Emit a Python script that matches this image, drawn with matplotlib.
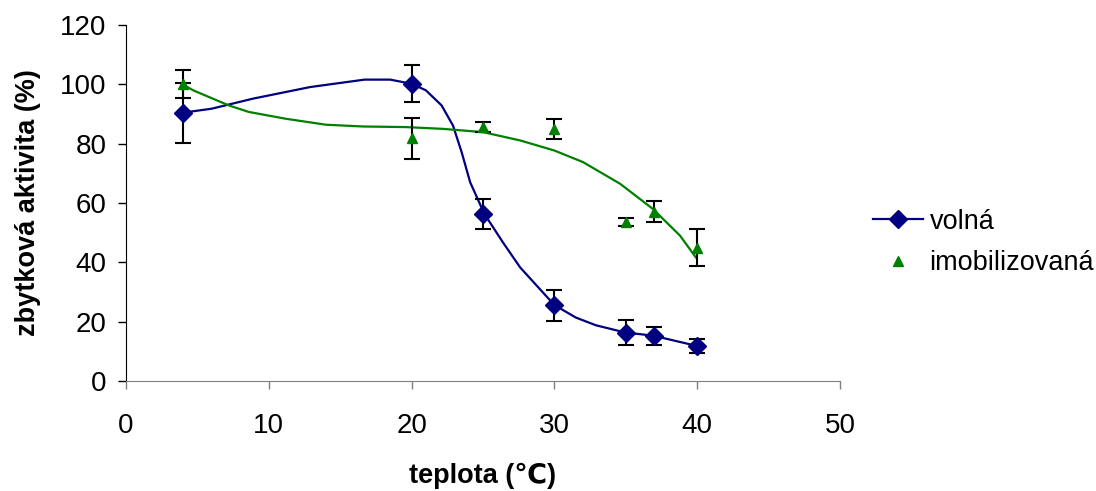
import numpy as np
import matplotlib
matplotlib.use('Agg')
import matplotlib.pyplot as plt
from matplotlib.lines import Line2D

plt.rcParams['font.family'] = ['Liberation Sans', 'DejaVu Sans']

# measured points (teplota, zbytkova aktivita, chyba)
temp = [4, 20, 25, 30, 35, 37, 40]
volna = [90.4, 100.2, 56.3, 25.6, 16.3, 15.2, 11.8]
volna_err = [10, 6.3, 5.1, 5.2, 4.2, 2.9, 2.3]
imob = [100.0, 81.9, 85.7, 85.0, 53.7, 57.1, 45.0]
imob_err = [4.7, 6.9, 1.7, 3.3, 1.3, 3.6, 6.2]

# smoothed curves
volna_curve_x = [3.9, 6.0, 8.9, 12.9, 16.7, 18.5, 20.0, 21.0, 22.1, 22.9, 23.5, 24.1,
                 25.1, 26.4, 27.6, 30.0, 31.5, 32.9, 35.0, 36.0, 37.0, 40.0]
volna_curve_y = [90.4, 91.8, 95.2, 99.1, 101.6, 101.6, 100.2, 98.0, 92.9, 86.1, 77.2, 67.0,
                 56.3, 46.7, 38.3, 25.6, 21.4, 18.8, 16.3, 15.8, 15.2, 11.8]
imob_curve_x = [3.9, 4.7, 7.2, 8.6, 11.2, 14.0, 16.6, 19.6, 22.2, 25.0, 27.6,
                30.0, 32.0, 34.6, 36.9, 38.8, 39.9]
imob_curve_y = [100.2, 98.0, 92.9, 90.7, 88.4, 86.4, 85.8, 85.6, 85.0, 83.9, 81.1,
                77.7, 73.8, 66.5, 58.0, 49.0, 41.7]

blue = '#000080'
green = '#008000'

fig = plt.figure(figsize=(10.96, 4.91), dpi=100)
ax = fig.add_axes([0.115, 0.224, 0.6514, 0.725])

ax.plot(volna_curve_x, volna_curve_y, color=blue, lw=1.6, zorder=2)
ax.plot(imob_curve_x, imob_curve_y, color=green, lw=1.6, zorder=2)

ax.errorbar(temp, volna, yerr=volna_err, fmt='none', ecolor='black', elinewidth=1.5,
            capsize=6, capthick=1.5, zorder=3)
ax.errorbar(temp, imob, yerr=imob_err, fmt='none', ecolor='black', elinewidth=1.5,
            capsize=6, capthick=1.5, zorder=3)

ax.plot(temp, volna, 'D', color=blue, markersize=9, zorder=4)
ax.plot(temp, imob, '^', color=green, markersize=7, zorder=4)

ax.set_xlim(0, 50)
ax.set_ylim(0, 120)
ax.set_xticks(np.arange(0, 51, 10))
ax.set_yticks(np.arange(0, 121, 20))
ax.tick_params(labelsize=20, length=6, width=1, direction='out')
ax.tick_params(axis='x', colors='#808080', labelcolor='black', pad=17)
ax.tick_params(axis='y', pad=8)

for s in ['top', 'right']:
    ax.spines[s].set_visible(False)
ax.spines['left'].set_color('black')
ax.spines['bottom'].set_color('#808080')

ax.set_xlabel('teplota (℃)', fontsize=19.5, fontweight='bold', labelpad=17)
ax.set_ylabel('zbytková aktivita (%)', fontsize=19.5, fontweight='bold', labelpad=14)

handles = [Line2D([0], [0], color=blue, lw=1.6, marker='D', markersize=9),
           Line2D([0], [0], color=green, lw=0, marker='^', markersize=7)]
fig.legend(handles, ['volná', 'imobilizovaná'], loc='center left',
           bbox_to_anchor=(0.774, 0.506), frameon=False, fontsize=19.5,
           handlelength=1.85, handletextpad=0.25, labelspacing=0.58)

fig.savefig('out.png', dpi=100)
